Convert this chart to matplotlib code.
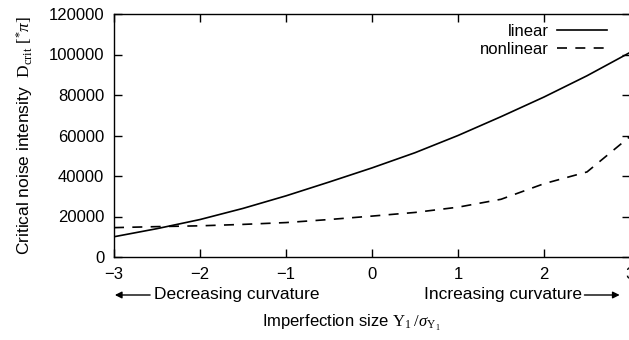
import matplotlib
matplotlib.use("Agg")
import matplotlib.pyplot as plt

plt.rcParams['font.family'] = ['Liberation Sans', 'DejaVu Sans']
plt.rcParams['mathtext.fontset'] = 'custom'
plt.rcParams['mathtext.rm'] = 'Liberation Serif'
plt.rcParams['mathtext.it'] = 'Liberation Serif:italic'
plt.rcParams['mathtext.bf'] = 'Liberation Serif:bold'

# imperfection size (normalised)
x_vals = [-3, -2.5, -2, -1.5, -1, -0.5, 0, 0.5, 1, 1.5, 2, 2.5, 3]
linear = [10000, 14000, 18500, 24000, 30200, 37000, 44000, 51500, 60000,
          69300, 79000, 89500, 101000]
nonlinear = [14500, 15000, 15400, 16100, 17000, 18500, 20200, 22000, 24600,
             28500, 36200, 42000, 59500]

x_ticks = [-3, -2, -1, 0, 1, 2, 3]
y_ticks = [0, 20000, 40000, 60000, 80000, 100000, 120000]

fig = plt.figure(figsize=(6.29, 3.40), dpi=100)
ax = fig.add_axes([114 / 629, 1 - 257 / 340, 516 / 629, 243 / 340])

ax.plot(x_vals, linear, color='black', lw=1.2, label='linear')
ax.plot(x_vals, nonlinear, color='black', lw=1.2, dashes=(6, 5), label='nonlinear')

ax.set_xlim(-3, 3)
ax.set_ylim(0, 120000)
ax.set_xticks(x_ticks)
ax.set_xticklabels(['\u22123', '\u22122', '\u22121', '0', '1', '2', '3'])
ax.set_yticks(y_ticks)
ax.tick_params(direction='in', length=6, width=1, top=True, right=True,
               labelsize=12, pad=7)
for s in ax.spines.values():
    s.set_linewidth(1)

ax.set_ylabel(r'Critical noise intensity  $\mathrm{D_{crit}}\ [{}^{*}\pi]$', fontsize=12.5)
ax.yaxis.set_label_coords((25 - 114) / 516, 0.5)
ax.yaxis.label.set_va('center')

ax.set_xlabel(r'Imperfection size $\mathrm{Y}_{1}\;/\sigma_{\mathrm{Y}_{1}}$', fontsize=12)
ax.xaxis.set_label_coords((351 - 114) / 516, (257 - 313) / 243)

trans = ax.get_xaxis_transform()
ya = (257 - 295) / 243
ax.text(-2.54, ya, 'Decreasing curvature', transform=trans, ha='left',
        va='center', fontsize=12.5)
ax.annotate('', xy=(-2.99, ya), xytext=(-2.58, ya), xycoords=trans,
            textcoords=trans, annotation_clip=False,
            arrowprops=dict(arrowstyle='-|>', color='black', lw=1,
                            shrinkA=0, shrinkB=0, mutation_scale=10))
ax.text(2.44, ya, 'Increasing curvature', transform=trans, ha='right',
        va='center', fontsize=12.5)
ax.annotate('', xy=(2.88, ya), xytext=(2.47, ya), xycoords=trans,
            textcoords=trans, annotation_clip=False,
            arrowprops=dict(arrowstyle='-|>', color='black', lw=1,
                            shrinkA=0, shrinkB=0, mutation_scale=10))

ax.legend(loc='upper right', bbox_to_anchor=(607 / 629, 1 - 24 / 340),
          bbox_transform=fig.transFigure, frameon=False, markerfirst=False,
          fontsize=12, handlelength=3.0, handletextpad=0.5, labelspacing=0.15,
          borderpad=0, borderaxespad=0)

fig.savefig('out.png', dpi=100)
